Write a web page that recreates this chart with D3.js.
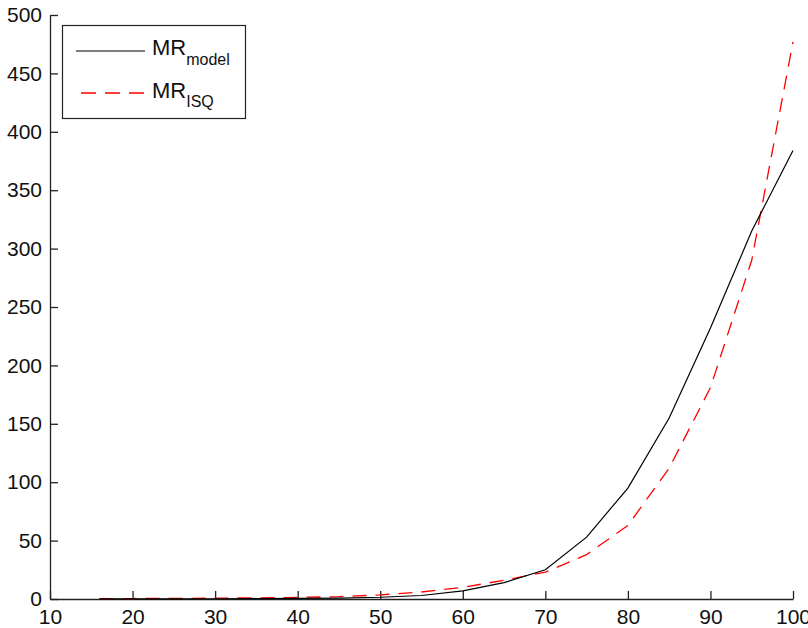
<!DOCTYPE html>
<html><head><meta charset="utf-8">
<script src="https://cdn.jsdelivr.net/npm/d3@7"></script>
<style>body{margin:0;background:#fff}svg{display:block}text{font-family:"Liberation Sans",Arial,sans-serif}</style>
</head><body>
<svg id="c" width="808" height="628"></svg>
<script>
const xs      = [16, 20, 25, 30, 35, 40, 45, 50, 55, 60, 65, 70, 75, 80, 85, 90, 95, 100];
const mrModel = [0.1, 0.1, 0.1, 0.2, 0.3, 0.5, 0.8, 1.5, 3, 7, 14, 25, 53, 95, 155, 232, 315, 384];
const mrISQ   = [0.3, 0.4, 0.5, 0.7, 1, 1.4, 2, 3.5, 6, 10, 16, 23, 38, 63, 112, 181, 290, 477];
const xTicks  = [10, 20, 30, 40, 50, 60, 70, 80, 90, 100];
const yTicks  = [0, 50, 100, 150, 200, 250, 300, 350, 400, 450, 500];

const svg = d3.select("#c");
const x = d3.scaleLinear().domain([10, 100]).range([50, 793]);
const y = d3.scaleLinear().domain([0, 500]).range([599, 15]);

const gx = svg.append("g").attr("transform", "translate(0,599)")
  .call(d3.axisBottom(x).tickValues(xTicks).tickSizeInner(-8).tickSizeOuter(0).tickPadding(10));
const gy = svg.append("g").attr("transform", "translate(50,0)")
  .call(d3.axisLeft(y).tickValues(yTicks).tickSizeInner(-8).tickSizeOuter(0).tickPadding(8));
[gx, gy].forEach(g => {
  g.selectAll("path,line").attr("stroke", "#222").attr("stroke-width", 1.3);
  g.selectAll("text").attr("font-size", 21).attr("fill", "#111");
});
gx.selectAll("text").attr("dy", "0.71em");

const line = d3.line().x((d, i) => x(xs[i])).y(d => y(d));
svg.append("path").datum(mrISQ).attr("d", line).attr("fill", "none")
  .attr("stroke", "#ff0000").attr("stroke-width", 1.3).attr("stroke-dasharray", "14,9");
svg.append("path").datum(mrModel).attr("d", line).attr("fill", "none")
  .attr("stroke", "#000").attr("stroke-width", 1.2);

// legend
const lg = svg.append("g");
lg.append("rect").attr("x", 62.5).attr("y", 25.5).attr("width", 183).attr("height", 93)
  .attr("fill", "#fff").attr("stroke", "#222").attr("stroke-width", 1.2);
lg.append("line").attr("x1", 76).attr("x2", 145).attr("y1", 51).attr("y2", 51)
  .attr("stroke", "#000").attr("stroke-width", 1.2);
lg.append("line").attr("x1", 81).attr("x2", 145).attr("y1", 93).attr("y2", 93)
  .attr("stroke", "#ff0000").attr("stroke-width", 1.3).attr("stroke-dasharray", "15,9");
const t1 = lg.append("text").attr("x", 152).attr("y", 55).attr("font-size", 22).attr("fill", "#111");
t1.append("tspan").text("MR");
t1.append("tspan").attr("dy", 10).attr("font-size", 16).text("model");
const t2 = lg.append("text").attr("x", 152).attr("y", 98).attr("font-size", 22).attr("fill", "#111");
t2.append("tspan").text("MR");
t2.append("tspan").attr("dy", 9).attr("font-size", 16).text("ISQ");
</script>
</body></html>
